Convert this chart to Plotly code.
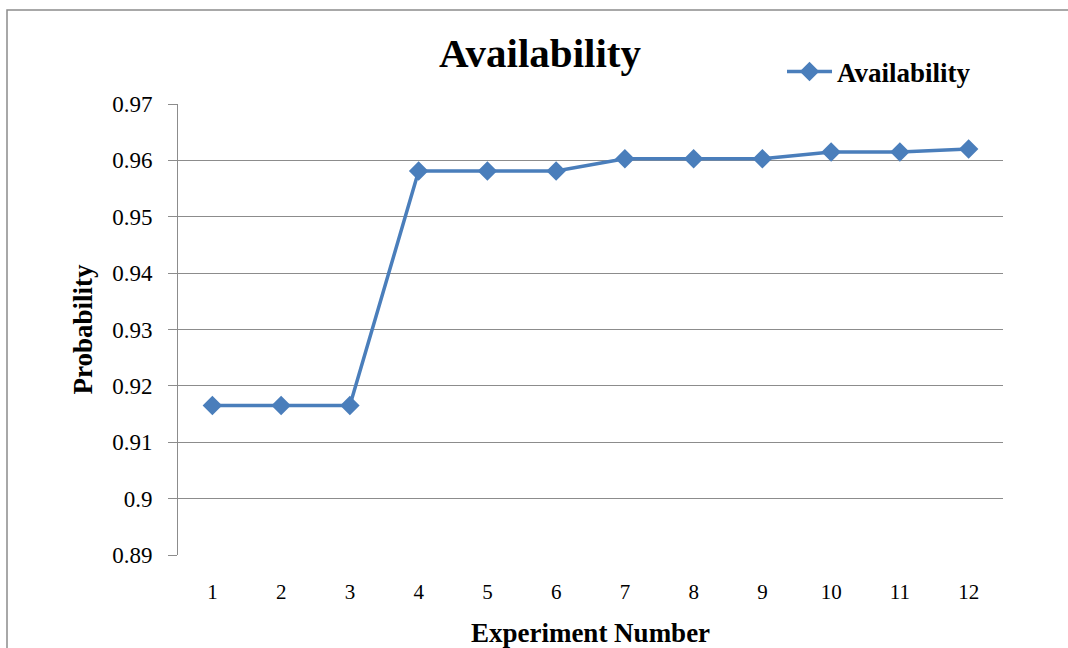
import plotly.graph_objects as go

experiments = [1, 2, 3, 4, 5, 6, 7, 8, 9, 10, 11, 12]
availability = [0.9165, 0.9165, 0.9165, 0.9581, 0.9581, 0.9581,
                0.9603, 0.9603, 0.9603, 0.9615, 0.9615, 0.9620]
y_ticks = [0.89, 0.90, 0.91, 0.92, 0.93, 0.94, 0.95, 0.96, 0.97]
y_ticktext = ["0.89", "0.9", "0.91", "0.92", "0.93", "0.94", "0.95", "0.96", "0.97"]

blue = "#4A7EBB"
grid = "#8C8C8C"
font_family = "Liberation Serif"

fig = go.Figure()
fig.add_trace(go.Scatter(
    x=experiments, y=availability, mode="lines+markers", name="<b>Availability</b>",
    line=dict(color=blue, width=3.5),
    marker=dict(symbol="diamond", size=15, color=blue),
))

fig.update_layout(
    width=1068, height=648,
    margin=dict(l=178, r=65, t=104, b=93),
    paper_bgcolor="white", plot_bgcolor="white",
    font=dict(family=font_family, color="black"),
    title=dict(text="<b>Availability</b>", x=540 / 1068, xanchor="center",
               y=1 - 53 / 648, yanchor="middle",
               font=dict(size=41, family=font_family, color="black")),
    showlegend=True,
    legend=dict(x=(782 - 178) / 825, y=1 + (104 - 72) / 451,
                xanchor="left", yanchor="middle",
                bgcolor="rgba(0,0,0,0)", font=dict(size=27, family=font_family),
                itemwidth=45, tracegroupgap=0),
    xaxis=dict(range=[0.5, 12.5], tickvals=experiments,
               ticktext=[str(e) for e in experiments],
               showgrid=False, zeroline=False, showline=False, ticks="",
               automargin=False,
               ticklabelstandoff=22,
               tickfont=dict(size=21, family=font_family),
               title=dict(text="<b>Experiment Number</b>", standoff=23,
                          font=dict(size=27, family=font_family))),
    yaxis=dict(range=[0.89, 0.97], tickvals=y_ticks, ticktext=y_ticktext,
               showgrid=True, gridcolor=grid, gridwidth=1, zeroline=False,
               showline=True, linecolor=grid, linewidth=1,
               ticks="outside", ticklen=9, tickcolor=grid,
               automargin=False,
               ticklabelstandoff=11,
               tickfont=dict(size=23, family=font_family),
               title=dict(text="<b>Probability</b>", standoff=11,
                          font=dict(size=27, family=font_family))),
)

# outer chart border (cropped at right/bottom as in the reference)
fig.add_shape(type="rect", xref="paper", yref="paper",
              x0=-171 / 825, x1=1.2, y0=-0.5, y1=1 + 94 / 451,
              line=dict(color="#8C8C8C", width=1.5), fillcolor="rgba(0,0,0,0)",
              layer="below")

fig.write_html("out.html")
